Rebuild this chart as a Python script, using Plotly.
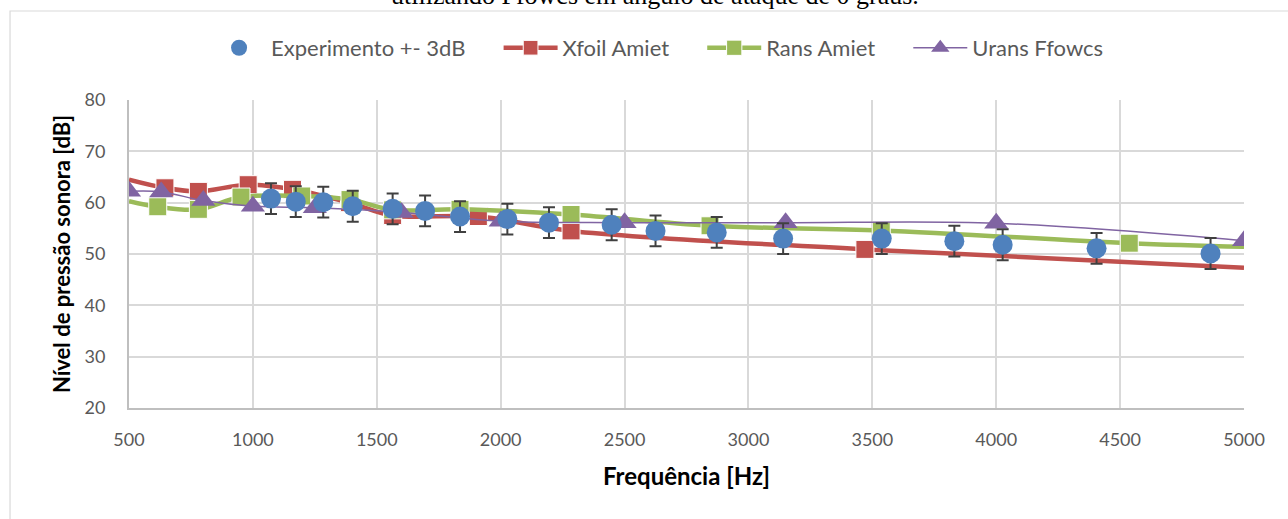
import plotly.graph_objects as go

# Experimental data (+- 3 dB)
exp_freq = [1073, 1173, 1284, 1403, 1564, 1695, 1836, 2027, 2195, 2448,
            2625, 2872, 3140, 3538, 3831, 4026, 4405, 4865]
exp_spl = [60.8, 60.2, 60.1, 59.3, 58.8, 58.4, 57.3, 56.8, 56.1, 55.7,
           54.5, 54.2, 53.0, 53.0, 52.5, 51.8, 51.1, 50.1]
exp_err = 3.0

# Xfoil + Amiet prediction (end points carry no marker)
xfoil_freq = [500, 645, 780, 981, 1160, 1390, 1564, 1910, 2284, 3470, 5000]
xfoil_spl = [64.5, 62.9, 62.2, 63.5, 62.6, 60.0, 57.5, 57.3, 54.5, 50.9, 47.3]
xfoil_marker = [False, True, True, True, True, True, True, True, True, True, False]

# RANS + Amiet prediction (end points carry no marker)
rans_freq = [500, 616, 780, 952, 1197, 1392, 1564, 1836, 2284, 2845, 3536, 4537, 5000]
rans_spl = [60.3, 59.2, 58.7, 61.1, 61.3, 60.6, 58.6, 58.7, 57.7, 55.5, 54.6, 52.1, 51.4]
rans_marker = [False, True, True, True, True, True, True, True, True, True, True, True, False]

# URANS + Ffowcs Williams-Hawkings, 1/3 octave bands
urans_freq = [500, 630, 800, 1000, 1250, 1600, 2000, 2500, 3150, 4000, 5000]
urans_spl = [62.2, 62.1, 60.4, 59.3, 59.0, 58.1, 56.4, 56.1, 56.1, 56.0, 52.6]

x_ticks = [500, 1000, 1500, 2000, 2500, 3000, 3500, 4000, 4500, 5000]
y_ticks = [20, 30, 40, 50, 60, 70, 80]

BLUE = "#4F81BD"
RED = "#C0504D"
GREEN = "#9BBB59"
PURPLE = "#8064A2"
TEXT = "#595959"
GRID = "#D9D9D9"
FONT = "Lato"
PAD = "\u00a0" * 5  # extra room after each legend label

fig = go.Figure()

fig.add_trace(go.Scatter(
    x=xfoil_freq, y=xfoil_spl, name="Xfoil Amiet" + PAD, mode="lines+markers",
    line=dict(color=RED, width=4.5, shape="spline", smoothing=1.0),
    marker=dict(symbol="square", color=RED, opacity=1,
                size=[18 if m else 0 for m in xfoil_marker]),
    legendrank=2,
))
fig.add_trace(go.Scatter(
    x=rans_freq, y=rans_spl, name="Rans Amiet" + PAD, mode="lines+markers",
    line=dict(color=GREEN, width=4.5, shape="spline", smoothing=1.0),
    marker=dict(symbol="square", color=GREEN, opacity=1,
                size=[18 if m else 0 for m in rans_marker]),
    legendrank=3,
))
fig.add_trace(go.Scatter(
    x=urans_freq, y=urans_spl, name="Urans Ffowcs", mode="lines+markers",
    line=dict(color=PURPLE, width=1.5, shape="spline", smoothing=1.0),
    marker=dict(symbol="triangle-up", color=PURPLE, size=21, opacity=1),
    legendrank=4,
))
fig.add_trace(go.Scatter(
    x=exp_freq, y=exp_spl, name="Experimento +- 3dB" + PAD, mode="markers",
    marker=dict(symbol="circle", color=BLUE, size=20, opacity=1),
    error_y=dict(type="constant", value=exp_err, color="#404040",
                 thickness=2, width=6),
    legendrank=1,
))

# Chart frame
fig.add_shape(type="rect", xref="paper", yref="paper",
              x0=-0.1067, x1=1.05, y0=-0.4, y1=1.289,
              line=dict(color=GRID, width=1.2), fillcolor="rgba(0,0,0,0)",
              layer="below")

# Caption line above the chart
fig.add_annotation(
    text="utilizando Ffowcs em ângulo de ataque de 0 graus.",
    xref="paper", yref="paper", x=0.472, y=1.2857,
    xanchor="center", yanchor="bottom", showarrow=False,
    font=dict(family="Liberation Serif", size=26, color="black"),
)

fig.update_layout(
    width=1288, height=519,
    margin=dict(l=129, r=44, t=100, b=111),
    paper_bgcolor="white", plot_bgcolor="white",
    font=dict(family=FONT, color=TEXT, size=18),
    showlegend=True,
    legend=dict(orientation="h", x=0.4745, xanchor="center",
                y=1.169, yanchor="middle",
                font=dict(family=FONT, size=22, color=TEXT),
                bgcolor="rgba(0,0,0,0)", itemwidth=54),
)

fig.update_xaxes(
    range=[500, 5000], tickvals=x_ticks, ticktext=[str(v) for v in x_ticks],
    showgrid=True, gridcolor=GRID, gridwidth=2,
    showline=True, linecolor="#BFBFBF", linewidth=2, mirror=False,
    zeroline=False, ticks="", ticklabelstandoff=14,
    tickfont=dict(family=FONT, size=18, color=TEXT),
    title=dict(text="<b>Frequência [Hz]</b>", standoff=20,
               font=dict(family=FONT, size=24, color="black")),
)
fig.update_yaxes(
    range=[20, 80], tickvals=y_ticks, ticktext=[str(v) for v in y_ticks],
    showgrid=True, gridcolor=GRID, gridwidth=2,
    showline=True, linecolor="#BFBFBF", linewidth=2,
    zeroline=False, ticks="", ticklabelstandoff=18,
    tickfont=dict(family=FONT, size=18, color=TEXT),
    title=dict(text="<b>Nível de pressão sonora [dB]</b>", standoff=8,
               font=dict(family=FONT, size=22, color="black")),
)

fig.write_html("out.html")
